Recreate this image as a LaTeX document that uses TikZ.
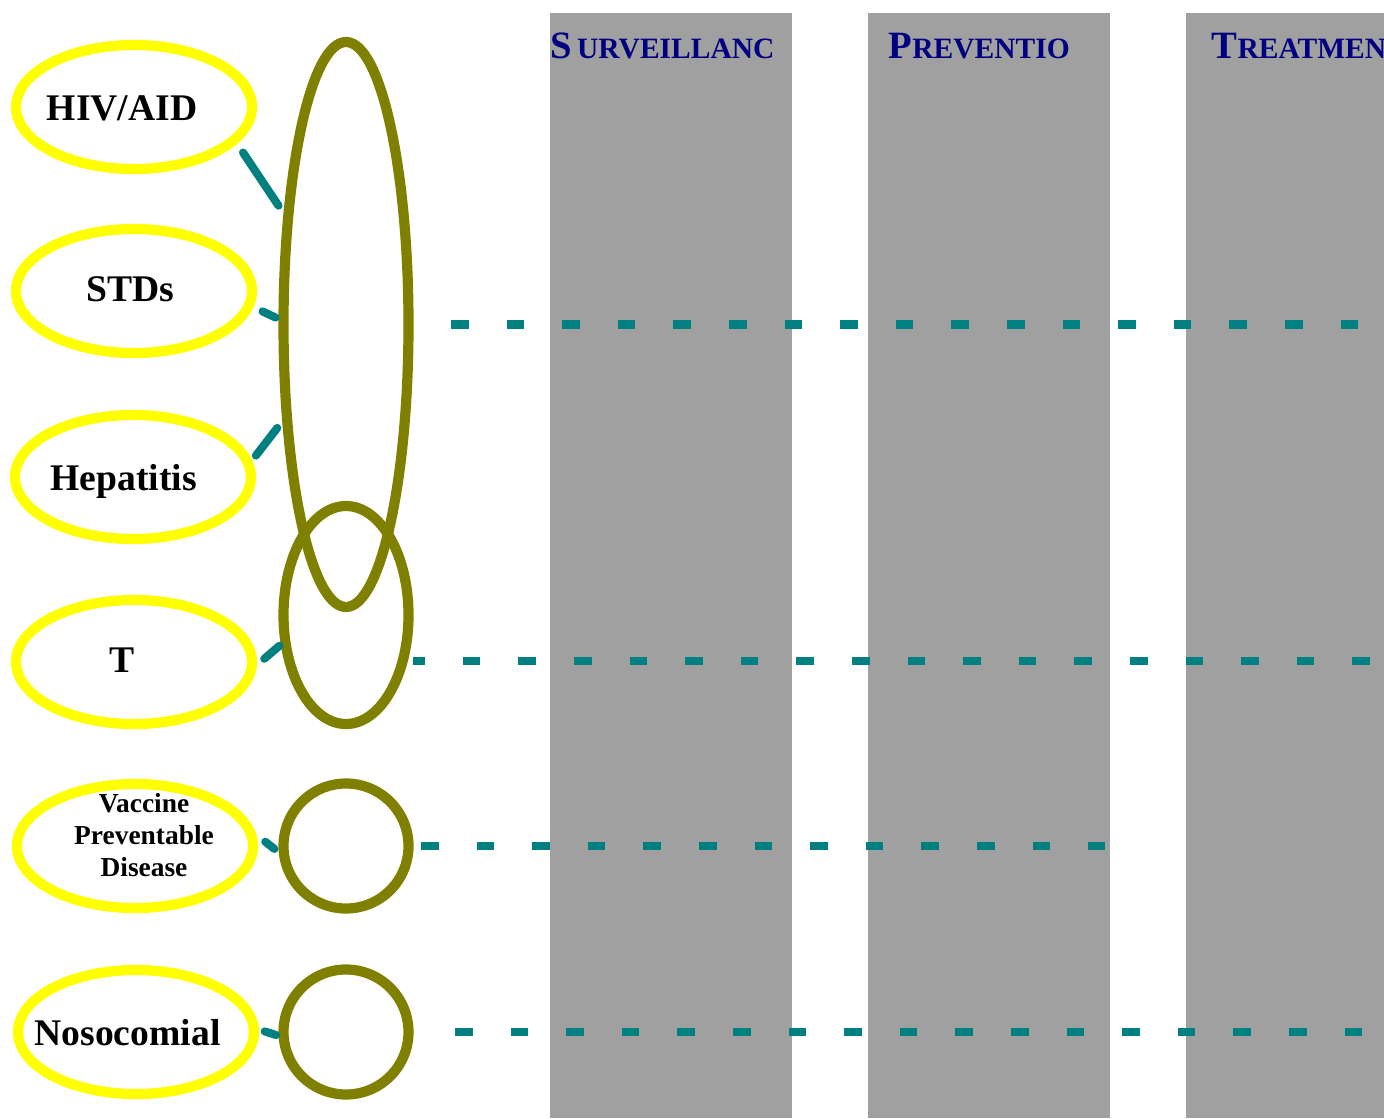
\documentclass[tikz,border=0pt]{standalone}
\usepackage{fontspec}
\setmainfont{Liberation Serif}
\usetikzlibrary{
	shapes.geometric,
	calc
}
\definecolor{olivering}{HTML}{808000}
\definecolor{tealline}{HTML}{008080}
\definecolor{yellowring}{HTML}{FFFF00}
\definecolor{columngray}{HTML}{A0A0A0}
\definecolor{hdrnavy}{HTML}{000080}
\tikzset{
	disease/.style={ellipse, draw=yellowring, line width=2.9pt, minimum width=2.36cm, minimum height=1.24cm, inner sep=0pt, outer sep=0pt},
	group/.style={ellipse, draw=olivering, line width=2.9pt, minimum width=1.25cm, inner sep=0pt, outer sep=0pt},
	link/.style={draw=tealline, line width=2.3pt, line cap=round},
	dashrow/.style={draw=tealline, line width=2.28pt, dash pattern=on 0.175cm off 0.381cm},
	lbl/.style={font=\bfseries\fontsize{10.7}{12}\selectfont, inner sep=0pt, anchor=base},
	hdr/.style={font=\bfseries\fontsize{8.4}{10}\selectfont, text=hdrnavy, inner sep=0pt, anchor=base west}
}
\newcommand{\hdrinit}[1]{{\fontsize{11}{13}\selectfont #1}}

\begin{document}
\begin{tikzpicture}
                \useasboundingbox (0,0) rectangle (13.84,-11.18);
                \fill[columngray] (5.50,-0.13) rectangle (7.92,-11.18);
                \fill[columngray] (8.68,-0.13) rectangle (11.10,-11.18);
                \fill[columngray] (11.86,-0.13) rectangle (13.84,-11.18);
                \node[hdr] (survhdr) at (5.50,-0.585) {\hdrinit{S}\,URVEILLANC};
                \node[hdr] (prevhdr) at (8.88,-0.585) {\hdrinit{P}REVENTIO};
                \node[hdr] (treathdr) at (12.11,-0.585) {\hdrinit{T}REATMEN};
                \node[disease] (hiv) at (1.34,-1.07) {};
                \node[disease] (stds) at (1.34,-2.91) {};
                \node[disease] (hep) at (1.33,-4.77) {};
                \node[disease] (tb) at (1.34,-6.62) {};
                \node[disease] (vac) at (1.35,-8.46) {};
                \node[disease] (noso) at (1.36,-10.32) {};
                \node[group, minimum height=5.65cm] (big) at (3.46,-3.245) {};
                \node[group, minimum height=2.18cm] (tring) at (3.46,-6.15) {};
                \node[group, minimum height=1.25cm] (vring) at (3.46,-8.46) {};
                \node[group, minimum height=1.25cm] (nring) at (3.46,-10.32) {};
                \coordinate (row1end) at (13.60,-3.25);
                \coordinate (row2end) at (13.70,-6.61);
                \coordinate (row3end) at (11.05,-8.47);
                \coordinate (row4end) at (13.63,-10.33);
                \draw[dashrow, shorten <=0.425cm] (big.east) -- (big.east -| row1end);
                \draw[dashrow, shorten <=0.10cm, dash phase=0.055cm] (tring.-39.6) -- (tring.-39.6 -| row2end);
                \draw[dashrow, shorten <=0.125cm] (vring.east) -- (vring.east -| row3end);
                \draw[dashrow, shorten <=0.465cm] (nring.east) -- (nring.east -| row4end);
                \draw[link, shorten <=0.156cm, shorten >=0.17cm] (hiv.-18) -- (big.119.7);
                \draw[link, shorten <=0.15cm, shorten >=0.087cm] (stds.-7.2) -- (big.177.6);
                \draw[link, shorten <=0.117cm, shorten >=0.156cm] (hep.6.1) -- (big.-123.6);
                \draw[link, shorten <=0.175cm, shorten >=0.077cm] (tb.-4.2) -- (tring.203.5);
                \draw[link, shorten <=0.22cm, shorten >=0.128cm] (vac.9.4) -- (vring.190.2);
                \draw[link, shorten <=0.115cm, shorten >=0.08cm] (noso.2.9) -- (nring.185.5);
                \node[lbl] (hivtxt) at (1.22,-1.21) {HIV/AID};
                \node[lbl] (stdstxt) at (1.30,-3.02) {STDs};
                \node[lbl] (heptxt) at (1.235,-4.90) {Hepatitis};
                \node[lbl] (tbtxt) at (1.22,-6.72) {T};
                \node[lbl, font=\bfseries\fontsize{7.8}{9}\selectfont, align=center, anchor=center] (vactxt) at (1.44,-8.35) {Vaccine\\Preventable\\Disease};
                \node[lbl] (nosotxt) at (1.275,-10.45) {Nosocomial};
            \end{tikzpicture}
\end{document}
